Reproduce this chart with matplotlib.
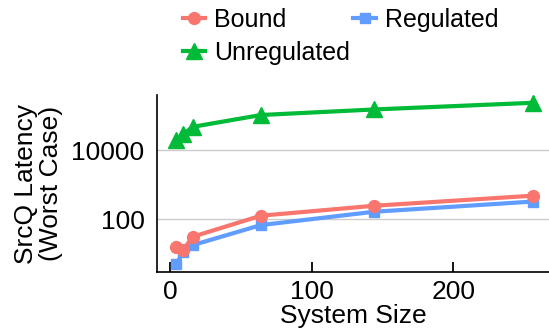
import matplotlib
matplotlib.use("Agg")
import matplotlib.pyplot as plt

plt.rcParams['font.family'] = ['Liberation Sans', 'DejaVu Sans']

system_size = [4, 9, 16, 64, 144, 256]
bound = [15.6, 13, 31.5, 127, 246, 480]
regulated = [5, 11, 18, 68, 165, 325]
unregulated = [19500, 28500, 47000, 103000, 149000, 232000]

fig = plt.figure(figsize=(5.49, 3.35), dpi=100)
ax = fig.add_axes([157/549, 1-272/335, 1-157/549, (272-95)/335])

lw = 3.0
ax.plot(system_size, bound, color='#F8766D', marker='o', markersize=8.5, lw=lw, label='Bound', zorder=3)
ax.plot(system_size, regulated, color='#619CFF', marker='s', markersize=7.5, lw=lw, label='Regulated', zorder=2)
ax.plot(system_size, unregulated, color='#00BA38', marker='^', markersize=11, lw=lw, label='Unregulated', zorder=3)

ax.set_yscale('log')
ax.set_ylim(3, 3.9e5)
ax.set_xlim(-9.4, 267.6)
ax.set_yticks([100, 10000])
ax.set_yticklabels(['100', '10000'])
ax.yaxis.set_minor_locator(matplotlib.ticker.NullLocator())
ax.set_xticks([0, 100, 200])
ax.tick_params(axis='x', direction='in', length=7, width=1.3, labelsize=19, pad=6)
ax.tick_params(axis='y', length=0, labelsize=19, pad=9)
ax.grid(axis='y', color='#cccccc', lw=1)
ax.set_axisbelow(True)
for s in ['top', 'right']:
    ax.spines[s].set_visible(False)
for s in ['left', 'bottom']:
    ax.spines[s].set_linewidth(1.2)

ax.set_xlabel('System Size', fontsize=19, labelpad=0)
ax.set_ylabel('SrcQ Latency\n(Worst Case)', fontsize=19, linespacing=1.05, labelpad=6)

h, l = ax.get_legend_handles_labels()
order = [0, 2, 1]
fig.legend([h[i] for i in order], [l[i] for i in order], ncol=2, frameon=False,
           loc='upper left', bbox_to_anchor=(165/549, 1.028), fontsize=18,
           handlelength=0.9, handletextpad=0.35, columnspacing=0.15, labelspacing=0.35,
           borderpad=0.2)

fig.savefig('out.png', dpi=100)
